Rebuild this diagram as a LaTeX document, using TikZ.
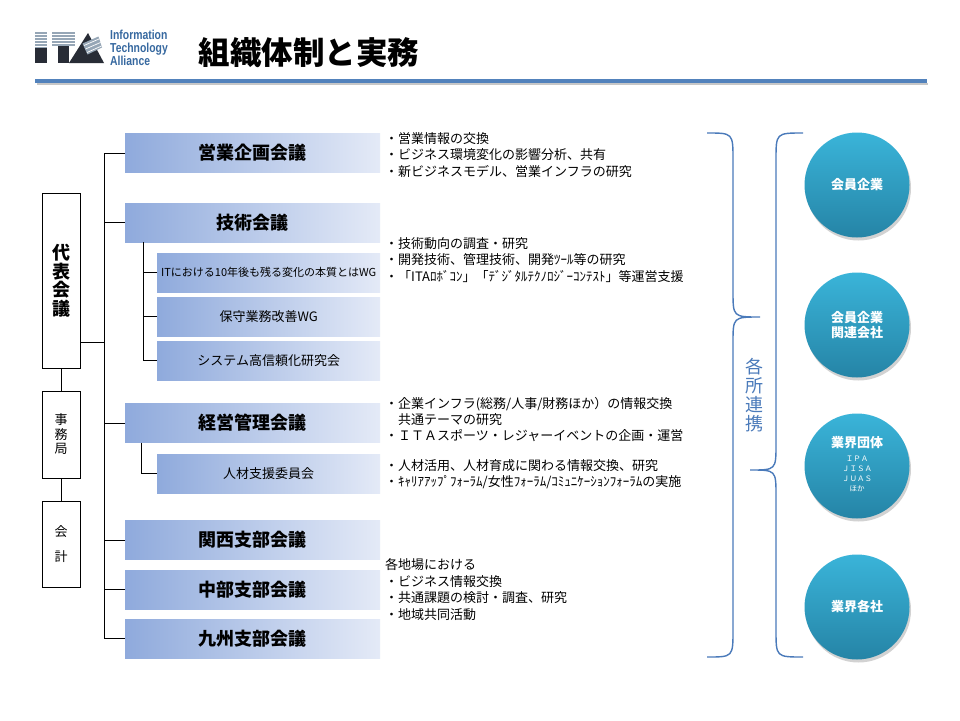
\documentclass[tikz,border=0pt]{standalone}
\usepackage{fontspec}
\setmainfont{Noto Sans CJK JP}
\newfontfamily\logofont{Liberation Sans}
\usetikzlibrary{shadows}
\definecolor{gradL}{RGB}{143,170,220}
\definecolor{gradR}{RGB}{228,234,247}
\definecolor{circT}{RGB}{58,180,217}
\definecolor{circB}{RGB}{37,132,166}
\definecolor{braceC}{RGB}{74,122,186}
\definecolor{lineC}{RGB}{82,130,188}
\definecolor{logoB}{RGB}{55,105,160}
\definecolor{logoD}{RGB}{40,44,54}
\definecolor{logoS}{RGB}{150,166,182}
\begin{document}
\begin{tikzpicture}[x=1pt,y=-1pt,
  mainbox/.style={anchor=west, minimum width=255pt, minimum height=39pt, inner sep=0pt, left color=gradL, right color=gradR, font=\fontsize{18}{20}\selectfont\bfseries},
  subbox/.style={anchor=west, minimum width=223pt, minimum height=39pt, inner sep=0pt, left color=gradL, right color=gradR, font=\fontsize{13}{15}\selectfont},
  sidebox/.style={draw=black, line width=1pt, fill=white, minimum width=38pt, inner sep=0pt, align=center},
  conn/.style={draw=black, line width=1pt},
  txt/.style={anchor=base west, inner sep=0pt, font=\fontsize{13}{15}\selectfont},
  circ/.style={circle, minimum size=105pt, inner sep=0pt, top color=circT, bottom color=circB, drop shadow={shadow xshift=1.5pt, shadow yshift=-3pt, opacity=0.35}, text=white, align=center, font=\fontsize{13}{15}\selectfont\bfseries},
  ctext/.style={inner sep=0pt, text=white, font=\fontsize{13}{15}\selectfont\bfseries},
  csmall/.style={inner sep=0pt, text=white, font=\fontsize{7.5}{9}\selectfont},
  bracestyle/.style={draw=braceC, line width=1.4pt},
  logotxt/.style={anchor=base west, inner sep=0pt, text height=9pt, text depth=0.5pt, text=logoB, font=\logofont\bfseries\fontsize{13}{13}\selectfont},
  stripe/.style={draw=white, line width=0.7pt}
]
\useasboundingbox (0,0) rectangle (960,720);
\fill[white] (0,0) rectangle (960,720);

% ---- logo ----
\fill[logoS] (35,32) rectangle (47,47.5);
\fill[logoD] (35,47.5) rectangle (47,63);
\fill[logoS] (52,32) rectangle (75,46);
\fill[logoD] (58,46) rectangle (69,63);
\fill[logoD] (69,63) -- (88,33) -- (104,63) -- cycle;
\fill[logoS] (82.5,43.5) -- (98.5,36.5) -- (102,47.5) -- (87.5,54.5) -- cycle;
\foreach \yy in {34.5,37.5,40.5,43.5}{
  \draw[stripe] (35,\yy) -- (47,\yy);
  \draw[stripe] (52,\yy) -- (75,\yy);
}
\draw[stripe] (35,46.5) -- (47,46.5);
\draw[stripe] (84,45.5) -- (99,39);
\draw[stripe] (85.5,49) -- (100.5,42.5);
\draw[stripe] (87,52.5) -- (101.5,46);
\node[logotxt] (lg1) at (110,39.5) {\scalebox{0.8}[1]{Information}};
\node[logotxt] (lg2) at (110,52.5) {\scalebox{0.8}[1]{Technology}};
\node[logotxt] (lg3) at (110,65.5) {\scalebox{0.8}[1]{Alliance}};

% ---- title ----
\node[inner sep=0pt, font=\fontsize{31.5}{33}\selectfont\bfseries] (title) at (309,53) {組織体制と実務};
\draw[black!22, line width=2.5pt] (37,84) -- (928,84);
\draw[lineC, line width=3.5pt] (35,81) -- (927,81);

% ---- side boxes ----
\node[sidebox, minimum height=175pt, font=\fontsize{18}{18.5}\selectfont\bfseries] (daihyo) at (61,280.5) {代\\表\\会\\議};
\node[sidebox, minimum height=87pt, font=\fontsize{13}{14.5}\selectfont] (jimu) at (61,434.5) {事\\務\\局};
\node[sidebox, minimum height=86pt, font=\fontsize{13}{25}\selectfont] (kaikei) at (61,544) {会\\計};
\draw[conn] (daihyo.south) -- (jimu.north);
\draw[conn] (jimu.south) -- (kaikei.north);

% ---- main boxes ----
\node[mainbox] (eigyo) at (125,153) {営業企画会議};
\node[mainbox] (gijutsu) at (125,222.5) {技術会議};
\node[subbox, font=\fontsize{11}{13}\selectfont] (wg1) at (157,272.5) {ITにおける10年後も残る変化の本質とはWG};
\node[subbox] (wg2) at (157,316.5) {保守業務改善WG};
\node[subbox] (wg3) at (157,360.5) {システム高信頼化研究会};
\node[mainbox] (keiei) at (125,423) {経営管理会議};
\node[subbox] (jinzai) at (157,473.5) {人材支援委員会};
\node[mainbox] (kansai) at (125,540) {関西支部会議};
\node[mainbox] (chubu) at (125,589.5) {中部支部会議};
\node[mainbox] (kyushu) at (125,638.5) {九州支部会議};

% ---- trunk ----
\coordinate (trtop) at (104,153);
\coordinate (dj) at (0,342);
\draw[conn] (eigyo.west) -- (trtop) |- (kyushu.west);
\draw[conn] (gijutsu.west) -- (gijutsu.west -| trtop);
\draw[conn] (keiei.west) -- (keiei.west -| trtop);
\draw[conn] (kansai.west) -- (kansai.west -| trtop);
\draw[conn] (chubu.west) -- (chubu.west -| trtop);
\draw[conn] (daihyo.east |- dj) -- (dj -| trtop);

\coordinate (sbt) at ([xshift=18pt]gijutsu.south west);
\draw[conn] (sbt) |- (wg3.west);
\draw[conn] (wg1.west) -- (wg1.west -| sbt);
\draw[conn] (wg2.west) -- (wg2.west -| sbt);
\coordinate (sbk) at ([xshift=16pt]keiei.south west);
\draw[conn] (sbk) |- (jinzai.west);

% ---- descriptions ----
\node[txt] (b1a) at (385,143) {・営業情報の交換};
\node[txt] (b1b) at (385,159.5) {・ビジネス環境変化の影響分析、共有};
\node[txt] (b1c) at (385,176) {・新ビジネスモデル、営業インフラの研究};

\node[txt] (b2a) at (385,248) {・技術動向の調査・研究};
\node[txt] (b2b) at (385,264.5) {・開発技術、管理技術、開発ﾂｰﾙ等の研究};
\node[txt] (b2c) at (385,281) {・「ITAﾛﾎﾞｺﾝ」「ﾃﾞｼﾞﾀﾙﾃｸﾉﾛｼﾞｰｺﾝﾃｽﾄ」等運営支援};

\node[txt] (b3a) at (385,408) {・企業インフラ(総務/人事/財務ほか）の情報交換};
\node[txt] (b3b) at (385,424) {　共通テーマの研究};
\node[txt] (b3c) at (385,440.5) {・ＩＴＡスポーツ・レジャーイベントの企画・運営};

\node[txt] (b4a) at (385,470) {・人材活用、人材育成に関わる情報交換、研究};
\node[txt] (b4b) at (385,486.5) {・ｷｬﾘｱｱｯﾌﾟﾌｫｰﾗﾑ/女性ﾌｫｰﾗﾑ/ｺﾐｭﾆｹｰｼｮﾝﾌｫｰﾗﾑの実施};

\node[txt] (b5a) at (385,569.5) {各地場における};
\node[txt] (b5b) at (385,586) {・ビジネス情報交換};
\node[txt] (b5c) at (385,602.5) {・共通課題の検討・調査、研究};
\node[txt] (b5d) at (385,619) {・地域共同活動};

% ---- braces ----
\draw[bracestyle] (707,133) .. controls (733,133) .. (733,160) -- (733,291) .. controls (733,317) .. (760,317) .. controls (733,317) .. (733,343) -- (733,630) .. controls (733,657) .. (707,657);
\draw[bracestyle] (803,133) .. controls (776,133) .. (776,160) -- (776,444) .. controls (776,470) .. (750,470) .. controls (776,470) .. (776,496) -- (776,630) .. controls (776,657) .. (803,657);
\node[inner sep=0pt, align=center, text=braceC, font=\fontsize{18}{19}\selectfont] (renkei) at (754,395) {各\\所\\連\\携};

% ---- circles ----
\node[circ] (c1) at (857,185) {会員企業};
\node[circ] (c2) at (857,325) {会員企業\\関連会社};
\node[circ] (c3) at (857,466) {};
\node[ctext] (c3t) at (857,443) {業界団体};
\node[csmall] (c3a) at (857,459) {ＩＰＡ};
\node[csmall] (c3b) at (857,469) {ＪＩＳＡ};
\node[csmall] (c3c) at (857,479) {ＪＵＡＳ};
\node[csmall] (c3d) at (857,489) {ほか};
\node[circ] (c4) at (857,607) {業界各社};
\end{tikzpicture}
\end{document}
